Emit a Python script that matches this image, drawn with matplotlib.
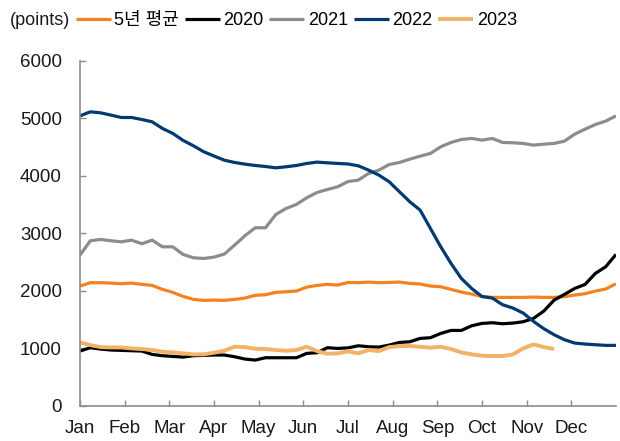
import numpy as np
import matplotlib.pyplot as plt

plt.rcParams['font.family'] = ['Liberation Sans', 'Noto Sans CJK KR', 'DejaVu Sans']

# weekly values (week 0..52)
avg5 = [2082, 2140, 2140, 2134, 2122, 2134, 2111, 2093, 2024, 1972, 1902, 1850, 1833, 1838,
        1833, 1850, 1873, 1920, 1931, 1972, 1983, 1995, 2064, 2093, 2111, 2099, 2145,
        2140, 2151, 2140, 2145, 2151, 2128, 2117, 2082, 2070, 2024, 1978, 1943, 1900,
        1885, 1885, 1885, 1885, 1890, 1885, 1885, 1897, 1926, 1949, 1995, 2030, 2122]
y2020 = [951, 1009, 986, 969, 963, 957, 951, 893, 870, 858, 846, 870, 876, 882,
         882, 852, 812, 794, 835, 835, 835, 835, 911, 922, 1009, 997, 1006,
         1043, 1026, 1020, 1055, 1101, 1113, 1171, 1183, 1258, 1310, 1310, 1391, 1432,
         1444, 1426, 1438, 1461, 1519, 1647, 1838, 1937, 2041, 2110, 2302, 2418, 2632]
y2021 = [2621, 2870, 2893, 2870, 2852, 2881, 2818, 2881, 2765, 2765, 2632, 2574, 2562, 2585,
         2638, 2794, 2957, 3096, 3096, 3328, 3432, 3502, 3618, 3710, 3762, 3809, 3900,
         3925, 4041, 4099, 4197, 4232, 4290, 4342, 4389, 4505, 4580, 4632, 4650, 4621,
         4650, 4580, 4575, 4563, 4534, 4551, 4563, 4604, 4725, 4812, 4893, 4951, 5043]
y2022 = [5043, 5113, 5096, 5056, 5015, 5015, 4980, 4940, 4824, 4738, 4616, 4523, 4419, 4345,
         4272, 4232, 4203, 4180, 4162, 4139, 4157, 4180, 4215, 4238, 4226, 4215, 4206,
         4174, 4099, 4012, 3896, 3722, 3548, 3403, 3084, 2765, 2475, 2214, 2040, 1900,
         1873, 1757, 1699, 1612, 1467, 1340, 1235, 1148, 1090, 1073, 1061, 1050, 1050]
y2023 = [1102, 1055, 1020, 1014, 1014, 997, 986, 969, 940, 928, 911, 893, 893, 922,
         957, 1026, 1020, 991, 986, 969, 957, 969, 1026, 951, 905, 911, 945,
         911, 969, 951, 1020, 1038, 1038, 1026, 1009, 1026, 986, 928, 893, 870,
         864, 864, 893, 997, 1067, 1020, 986]

months = ['Jan', 'Feb', 'Mar', 'Apr', 'May', 'Jun', 'Jul', 'Aug', 'Sep', 'Oct', 'Nov', 'Dec']

series = [
    ('5년 평균', avg5, '#F58220', 2.3),
    ('2020', y2020, '#000000', 2.3),
    ('2021', y2021, '#8C8C8C', 2.3),
    ('2022', y2022, '#003A70', 2.3),
    ('2023', y2023, '#F2B366', 2.8),
]

fig = plt.figure(figsize=(6.2, 4.41), dpi=100)
ax = fig.add_axes([0.129, 0.08, 0.8645, 0.782])

for label, vals, color, lw in series:
    ax.plot(np.arange(len(vals)), vals, color=color, lw=lw, label=label,
            solid_joinstyle='round', solid_capstyle='butt')

ax.set_xlim(0, 52)
ax.set_ylim(0, 6000)
ax.set_yticks(np.arange(0, 6001, 1000))
ax.set_xticks(np.arange(12) * 52 / 12)
ax.set_xticklabels(months)

for side in ['top', 'right']:
    ax.spines[side].set_visible(False)
for side in ['left', 'bottom']:
    ax.spines[side].set_color('#8C8C8C')
    ax.spines[side].set_linewidth(1.2)

ax.tick_params(axis='both', direction='in', length=4, width=1, color='#8C8C8C',
               labelsize=13.5, labelcolor='#1a1a1a')
ax.tick_params(axis='y', pad=13)
ax.tick_params(axis='x', pad=10)

fig.text(0.016, 0.953, '(points)', fontsize=13, va='center', ha='left', color='#1a1a1a')
fig.legend(loc='center left', bbox_to_anchor=(0.122, 0.953), ncol=5, frameon=False,
           fontsize=13, handlelength=1.95, handletextpad=0.2, columnspacing=0.3,
           borderpad=0, borderaxespad=0)

fig.savefig('out.png', dpi=100)
